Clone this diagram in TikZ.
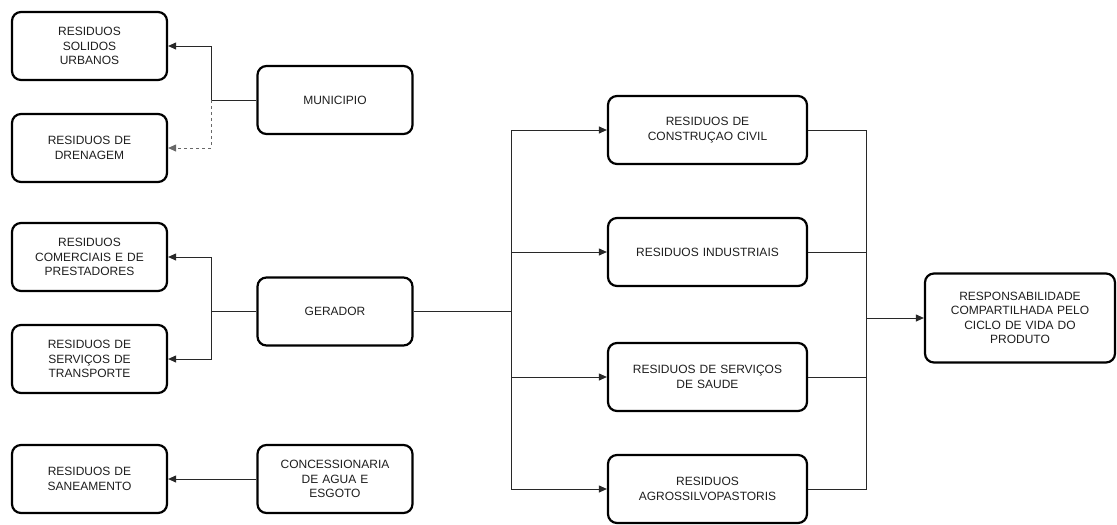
\documentclass[tikz,border=0pt]{standalone}
\usepackage{fontspec}
\setmainfont{Liberation Sans}
\usepackage{tikz}
\usetikzlibrary{arrows.meta, positioning}
\definecolor{rsline}{RGB}{40, 40, 40}
\definecolor{rstext}{RGB}{30, 30, 30}

\begin{document}
\begin{tikzpicture}[x=1pt, y=-1pt,
  box/.style={draw, line width=2.2pt, rounded corners=9pt, align=center,
    text=rstext, font=\fontsize{12}{14.5}\selectfont, inner sep=2pt},
  smallbox/.style={box, minimum width=155pt, minimum height=68pt, text width=145pt},
  widebox/.style={box, minimum width=199pt, minimum height=68pt, text width=185pt},
  link/.style={draw=rsline, line width=1pt},
  arr/.style={link, -{Triangle[length=8pt, width=7pt]}}]
  \useasboundingbox (0,0) rectangle (1117,525);

  % Left column
  \node[smallbox] (rsu) at (89.5,46) {RESIDUOS\\SOLIDOS\\URBANOS};
  \node[smallbox] (drn) at (89.5,148) {RESIDUOS DE\\DRENAGEM};
  \node[smallbox] (com) at (89.5,257) {RESIDUOS\\COMERCIAIS E DE\\PRESTADORES};
  \node[smallbox] (trn) at (89.5,359) {RESIDUOS DE\\SERVIÇOS DE\\TRANSPORTE};
  \node[smallbox] (san) at (89.5,479) {RESIDUOS DE\\SANEAMENTO};

  % Sources
  \node[smallbox] (mun) at (335,100) {MUNICIPIO};
  \node[smallbox] (ger) at (335,311.5) {GERADOR};
  \node[smallbox] (con) at (335,479) {CONCESSIONARIA\\DE AGUA E\\ESGOTO};

  % Middle column
  \node[widebox] (civ) at (707.5,130) {RESIDUOS DE\\CONSTRUÇAO CIVIL};
  \node[widebox] (ind) at (707.5,252) {RESIDUOS INDUSTRIAIS};
  \node[widebox] (sau) at (707.5,377) {RESIDUOS DE SERVIÇOS\\DE SAUDE};
  \node[widebox] (agr) at (707.5,489) {RESIDUOS\\AGROSSILVOPASTORIS};

  % Result
  \node[box, minimum width=190pt, minimum height=89pt, text width=175pt]
    (res) at (1020,318) {RESPONSABILIDADE\\COMPARTILHADA PELO\\CICLO DE VIDA DO\\PRODUTO};

  % Junctions
  \coordinate (jm) at (211,100);
  \coordinate (jg) at (211,311.5);
  \coordinate (jl) at (511,311.5);
  \coordinate (jr) at (866,318);

  % Municipio
  \draw[link] (mun.west) -- (jm);
  \draw[arr] (jm) |- (rsu.east);
  \draw[arr, dashed, draw=rsline!70] (jm) |- (drn.east);

  % Gerador
  \draw[link] (ger.west) -- (jg);
  \draw[arr] (jg) |- (com.east);
  \draw[arr] (jg) |- (trn.east);
  \draw[link] (ger.east) -- (jl);
  \draw[arr] (jl) |- (civ.west);
  \draw[arr] (jl) |- (ind.west);
  \draw[arr] (jl) |- (sau.west);
  \draw[arr] (jl) |- (agr.west);

  % Concessionaria
  \draw[arr] (con.west) -- (san.east);

  % Shared responsibility
  \draw[link] (civ.east) -| (jr);
  \draw[link] (ind.east) -| (jr);
  \draw[link] (sau.east) -| (jr);
  \draw[link] (agr.east) -| (jr);
  \draw[arr] (jr) -- (res.west);
\end{tikzpicture}
\end{document}
